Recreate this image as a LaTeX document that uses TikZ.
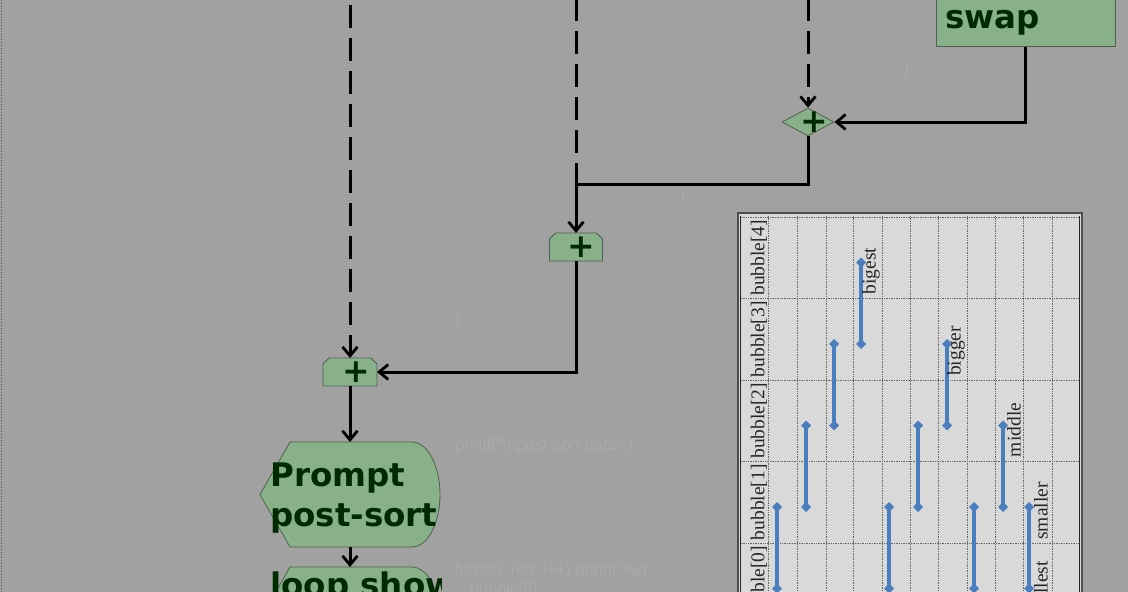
\documentclass[tikz,border=0pt]{standalone}
\usepackage{fontspec}
\setmainfont{DejaVu Sans}
\newfontfamily\chartfont{Liberation Serif}
\newfontfamily\codefont{Liberation Sans}
\usetikzlibrary{arrows.meta,shapes.geometric,calc}
\definecolor{bgc}{HTML}{A1A1A1}
\definecolor{boxfill}{HTML}{89B189}
\definecolor{boxedge}{HTML}{4F5F4F}
\definecolor{txtgreen}{HTML}{002A00}
\definecolor{chartbg}{HTML}{D9D9D9}
\definecolor{gridc}{HTML}{666666}
\definecolor{chedge}{HTML}{4D4D4D}
\definecolor{chtxt}{HTML}{262626}
\definecolor{barblue}{HTML}{4A7EBF}
\definecolor{faintc}{HTML}{AAAAAA}
\tikzset{
  greenbox/.style={draw=boxedge, fill=boxfill, line width=0.8pt},
  dispnode/.style={rectangle, draw=none, minimum width=180pt, minimum height=105pt, inner sep=0pt, outer sep=0pt},
  plusnode/.style={rectangle, draw=none, minimum height=28pt, inner sep=0pt, outer sep=0pt},
  conn/.style={line width=3pt, -{Straight Barb[length=9pt,width=15pt,line width=2.8pt]}},
  dashconn/.style={conn, dash pattern=on 23pt off 10pt},
  bigtxt/.style={font=\fontsize{32.5}{40}\selectfont\bfseries, text=txtgreen, inner sep=0pt},
  plustxt/.style={font=\fontsize{33}{33}\selectfont\bfseries, text=txtgreen, inner sep=0pt},
  clabel/.style={font=\chartfont\fontsize{19.5}{19.5}\selectfont, text=chtxt, inner sep=0pt, rotate=90},
  faint/.style={font=\codefont\fontsize{16.4}{19}\selectfont, text=faintc, inner sep=0pt, anchor=base west},
  gridline/.style={gridc, line width=1pt, dash pattern=on 1pt off 0.7pt},
  bar/.style={barblue, line width=3.2pt}
}
\begin{document}
\begin{tikzpicture}[x=1pt,y=-1pt]
\useasboundingbox (0,0) rectangle (1128,592);
\clip (0,0) rectangle (1128,592);
\fill[bgc] (0,0) rectangle (1128,592);
\draw[gray!60!black, line width=0.8pt, dotted] (1,0) -- (1,592);

% faint code texts
\node[faint] (c1) at (455,450) {printf("\textbackslash npost-sort data:");};
\node[faint] (c2) at (455,575) {for(i=0; i<n; i++) printf("\%d,};
\node[faint] (c3) at (455,594) {", bubble[i]);};
\node[faint] (c4) at (455,324) {\}};
\node[faint] (c5) at (680,200) {\}};
\node[faint] (c6) at (904,75) {\}};

% nodes
\node[greenbox, rectangle, minimum width=179pt, minimum height=90pt, inner sep=0pt, anchor=south west] (swap) at (936,47) {};
\node[bigtxt, anchor=base west] (swaptxt) at (945,28) {swap};

\node[greenbox, diamond, minimum width=52pt, minimum height=28pt, inner sep=0pt] (dplus) at (808,122) {};
\node[plustxt] (dplustxt) at ($(dplus.center)+(6,0)$) {+};

\foreach \n/\w/\cx/\cy in {plusB/53/576/247, plusA/54/350/372}{
  \node[plusnode, minimum width=\w pt] (\n) at (\cx,\cy) {};
  \draw[greenbox] (\n.south west) -- ($(\n.north west)+(0,6)$) -- ($(\n.north west)+(6,0)$)
     -- ($(\n.north east)+(-6,0)$) -- ($(\n.north east)+(0,6)$) -- (\n.south east) -- cycle;
}
\node[plustxt] (plusBtxt) at ($(plusB.center)+(5,0)$) {+};
\node[plustxt] (plusAtxt) at ($(plusA.center)+(6,0)$) {+};

\node[dispnode] (prompt) at (350,494.5) {};
\draw[greenbox] (prompt.west) -- ($(prompt.north west)+(30,0)$) -- ($(prompt.north east)+(-28,0)$)
  arc[start angle=90, end angle=-90, x radius=28pt, y radius=52.5pt]
  -- ($(prompt.south west)+(30,0)$) -- cycle;
\node[bigtxt, anchor=north west, align=left] (prompttxt) at (270,463) {Prompt\\post-sort};

\node[dispnode] (loop) at (350,619.5) {};
\draw[greenbox] (loop.west) -- ($(loop.north west)+(30,0)$) -- ($(loop.north east)+(-28,0)$)
  arc[start angle=90, end angle=-90, x radius=28pt, y radius=52.5pt]
  -- ($(loop.south west)+(30,0)$) -- cycle;
\begin{scope}
  \clip (255,560) rectangle (441,600);
  \node[bigtxt, anchor=north west, align=left] (looptxt) at (270,572) {loop show};
\end{scope}

% connectors
\coordinate (topA) at (350,5);
\coordinate (topB) at (576,-2);
\coordinate (topC) at (808,-2);
\coordinate (junc) at (576,184);
\draw[dashconn] (topA) -- (plusA.north);
\draw[line width=3pt, dash pattern=on 23pt off 10pt] (topB) -- (junc);
\draw[dashconn] (topC) -- (dplus.north);
\draw[conn] (swap.south) |- (dplus.east);
\draw[conn] (dplus.south) |- (junc) -- (plusB.north);
\draw[conn] (plusB.south) |- (plusA.east);
\draw[conn] (plusA.south) -- (prompt.north);
\draw[conn] (prompt.south) -- (loop.north);

% chart
\draw[chedge, line width=2pt, fill=chartbg] (738,213) rectangle (1082,620);
\draw[black!85, line width=0.8pt] (740.5,215.5) -- (740.5,620);
\draw[black!85, line width=1pt] (1079.5,215.5) -- (1079.5,620);
\foreach \gx in {768,797,826,853,882,910,938,967,995,1023,1052}
  \draw[gridline] (\gx,216) -- (\gx,620);
\foreach \gy in {217,298.5,380,461.5,543}
  \draw[gridline] (741,\gy) -- (1079,\gy);
\foreach \i in {0,...,4}
  \node[clabel] (row\i) at (759,{257.75+81.5*(4-\i)}) {bubble[\i]};
\foreach \bx/\ra/\rb in {777/1/0,806/2/1,834/3/2,861/4/3,889/1/0,918/2/1,947/3/2,974/1/0,1003/2/1,1029/1/0}{
  \draw[bar] (\bx,{262.5+81.5*(4-\ra)}) -- (\bx,{262.5+81.5*(4-\rb)});
  \foreach \r in {\ra,\rb}
    \fill[barblue] (\bx,{262.5+81.5*(4-\r)}) +(-5,0) -- +(0,-5) -- +(5,0) -- +(0,5) -- cycle;
}
\node[clabel] (lbigest) at (871,271) {bigest};
\node[clabel] (lbigger) at (956,351) {bigger};
\node[clabel] (lmiddle) at (1014,430) {middle};
\node[clabel] (lsmaller) at (1041,511) {smaller};
\node[clabel] (lsmallest) at (1041,593) {smallest};
\end{tikzpicture}
\end{document}
